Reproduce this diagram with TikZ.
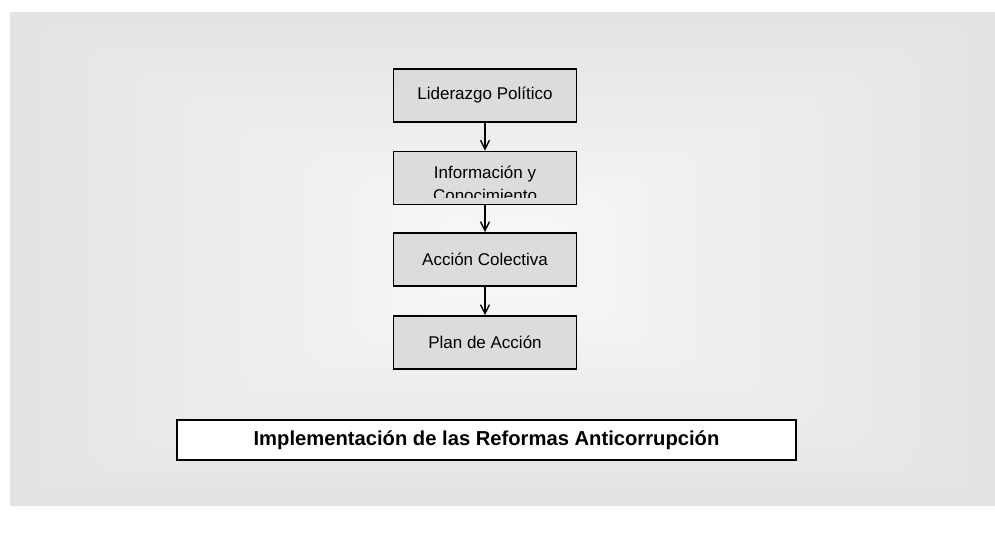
\documentclass[tikz,border=0pt]{standalone}
\usepackage{fontspec}
\setmainfont{Liberation Sans}
\usetikzlibrary{arrows.meta}
\begin{document}
\begin{tikzpicture}[x=1pt,y=-1pt,
  stepbox/.style={draw=black,line width=1.8pt,fill=boxgray,minimum width=183pt,minimum height=53pt,inner sep=0pt,font=\fontsize{17}{20}\selectfont},
  flow/.style={line width=1.4pt,-{Straight Barb[length=9pt,width=9pt,line width=1.3pt]}}]
\definecolor{boxgray}{RGB}{220,220,220}
\definecolor{edgegray}{RGB}{227,227,227}
\definecolor{centergray}{RGB}{247,247,247}
\useasboundingbox (0,0) rectangle (995,535);
\fill[white] (0,0) rectangle (995,535);
% background panel with rectangular gradient
\fill[edgegray] (10,12) rectangle (995,506);
\foreach \i in {1,...,40}{
  \pgfmathsetmacro{\p}{100*\i/40}
  \fill[centergray!\p!edgegray,rounded corners=20pt]
    ({10+\i*11.5},{12+\i*5.5}) rectangle ({995-\i*11.5},{506-\i*5.5});
}
\node[stepbox] (b1) at (485,95.5) {Liderazgo Político};
\node[stepbox] (b2) at (485,178) {};
\begin{scope}
  \clip (393,152) rectangle (576,197);
  \node[font=\fontsize{17}{23}\selectfont,align=center,anchor=north,inner sep=0pt] (t2) at (485,165.5) {Información y\\Conocimiento};
\end{scope}
\node[stepbox] (b3) at (485,259.5) {Acción Colectiva};
\node[stepbox] (b4) at (485,342.5) {Plan de Acción};
\node[draw=black,line width=1.8pt,fill=white,minimum width=619pt,minimum height=40pt,inner sep=0pt,font=\bfseries\fontsize{20.2}{22}\selectfont] (b5) at (486.5,440) {Implementación de las Reformas Anticorrupción};
\draw[flow] (b1) -- (b2);
\draw[flow] (b2) -- (b3);
\draw[flow] (b3) -- (b4);
\end{tikzpicture}
\end{document}
